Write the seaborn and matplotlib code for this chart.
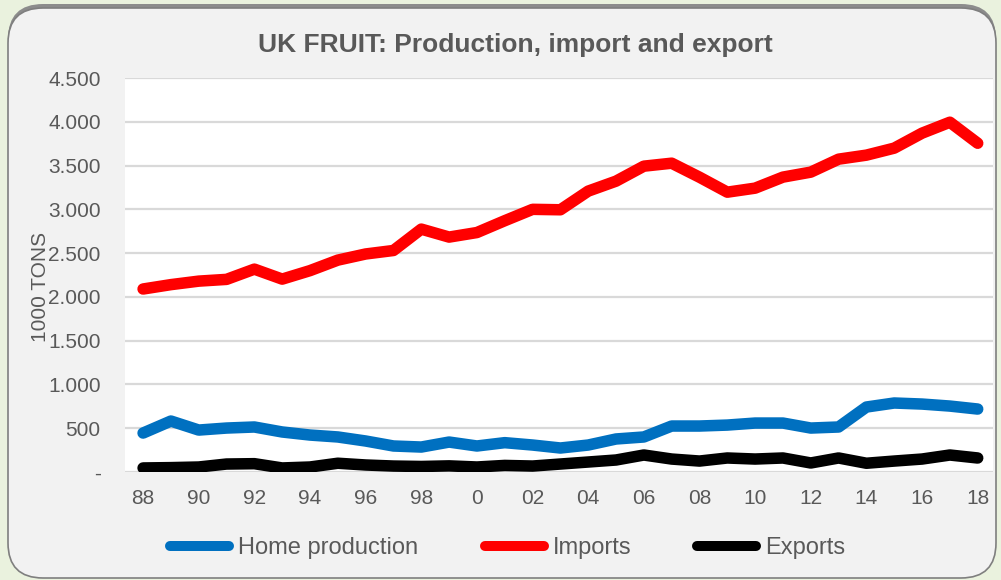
import numpy as np
import pandas as pd
import matplotlib
matplotlib.use("Agg")
import matplotlib.pyplot as plt
from matplotlib.patches import FancyBboxPatch
from matplotlib.ticker import FuncFormatter
import seaborn as sns

# values (1000 tons)
years = list(range(1988, 2019))
home_production = [445, 582, 479, 502, 514, 457, 422, 400, 354, 297, 285, 342, 297, 335,
                   308, 274, 308, 377, 400, 525, 525, 536, 559, 559, 502, 514, 742, 788,
                   776, 753, 719]
imports = [2090, 2140, 2180, 2200, 2317, 2203, 2300, 2420, 2490, 2530, 2774, 2683, 2735,
           2870, 3000, 2995, 3208, 3322, 3493, 3527, 3367, 3196, 3242, 3368, 3425, 3573,
           3619, 3699, 3870, 3995, 3755]
exports = [46, 50, 57, 91, 95, 46, 57, 100, 80, 68, 63, 70, 57, 75, 68, 91, 114, 137,
           194, 148, 125, 160, 148, 160, 103, 160, 100, 125, 148, 194, 160]

series_names = ["Home production", "Imports", "Exports"]
colors = ["#0070c0", "#ff0000", "#000000"]

df = pd.DataFrame({
    "year": years * 3,
    "value": home_production + imports + exports,
    "series": sum([[n] * len(years) for n in series_names], []),
})

sns.set_style("white")
plt.rcParams["font.family"] = ["Liberation Sans", "DejaVu Sans"]
grey_text = "#595959"

W, H = 1001, 580
fig = plt.figure(figsize=(W / 100, H / 100), dpi=100)
fig.patch.set_facecolor("#eaf2de")

# rounded chart box with a soft shadow along the top
shadow = FancyBboxPatch((8 / W, 6 / H), 988 / W, 570 / H,
                        boxstyle="round,pad=0,rounding_size=0.035",
                        transform=fig.transFigure, facecolor="#8c8c8c",
                        edgecolor="none", zorder=-3, mutation_aspect=W / H)
box = FancyBboxPatch((8 / W, 2 / H), 988 / W, 570 / H,
                     boxstyle="round,pad=0,rounding_size=0.035",
                     transform=fig.transFigure, facecolor="#f2f2f2",
                     edgecolor="#7f7f7f", linewidth=1.2, zorder=-2,
                     mutation_aspect=W / H)
fig.patches.extend([shadow, box])

ax = fig.add_axes([125 / W, 1 - 472 / H, (993 - 125) / W, (472 - 78) / H])
ax.set_zorder(1)
ax.set_facecolor("white")

sns.lineplot(data=df, x="year", y="value", hue="series", hue_order=series_names,
             palette=colors, linewidth=8.3, ax=ax, legend=True,
             solid_capstyle="round", solid_joinstyle="round")

ax.set_xlim(1987.35, 2018.55)
ax.set_ylim(0, 4500)
ax.set_yticks(np.arange(0, 4501, 500))
ax.yaxis.set_major_formatter(FuncFormatter(
    lambda v, p: "-" if v == 0 else f"{int(v):,}".replace(",", ".")))
xt = list(range(1988, 2019, 2))
ax.set_xticks(xt)
ax.set_xticklabels(["0" if y % 100 == 0 else f"{y % 100:02d}" for y in xt])
ax.tick_params(axis="both", length=0, labelsize=15, labelcolor=grey_text)
ax.tick_params(axis="y", pad=17.5)
ax.tick_params(axis="x", pad=12)
ax.grid(axis="y", color="#d9d9d9", linewidth=1.6)
ax.set_axisbelow(True)
for s in ax.spines.values():
    s.set_visible(False)
ax.set_xlabel("")
ax.set_ylabel("")

fig.text(515 / W, 1 - 45 / H, "UK FRUIT: Production, import and export",
         ha="center", va="center", fontsize=19, fontweight="bold", color=grey_text)
fig.text(40 / W, 1 - 287 / H, "1000 TONS", rotation=90, ha="center", va="center",
         fontsize=15, color=grey_text, zorder=5)

handles, labels = ax.get_legend_handles_labels()
ax.get_legend().remove()
leg = fig.legend(handles, labels, loc="center", bbox_to_anchor=(508 / W, 1 - 548 / H),
                 ncol=3, frameon=False, fontsize=17, handlelength=2.5,
                 columnspacing=2.8, handletextpad=0.38, labelcolor=grey_text)
for line in leg.get_lines():
    line.set_linewidth(7.2)
    line.set_solid_capstyle("round")

fig.savefig("out.png", dpi=100, facecolor=fig.get_facecolor())
